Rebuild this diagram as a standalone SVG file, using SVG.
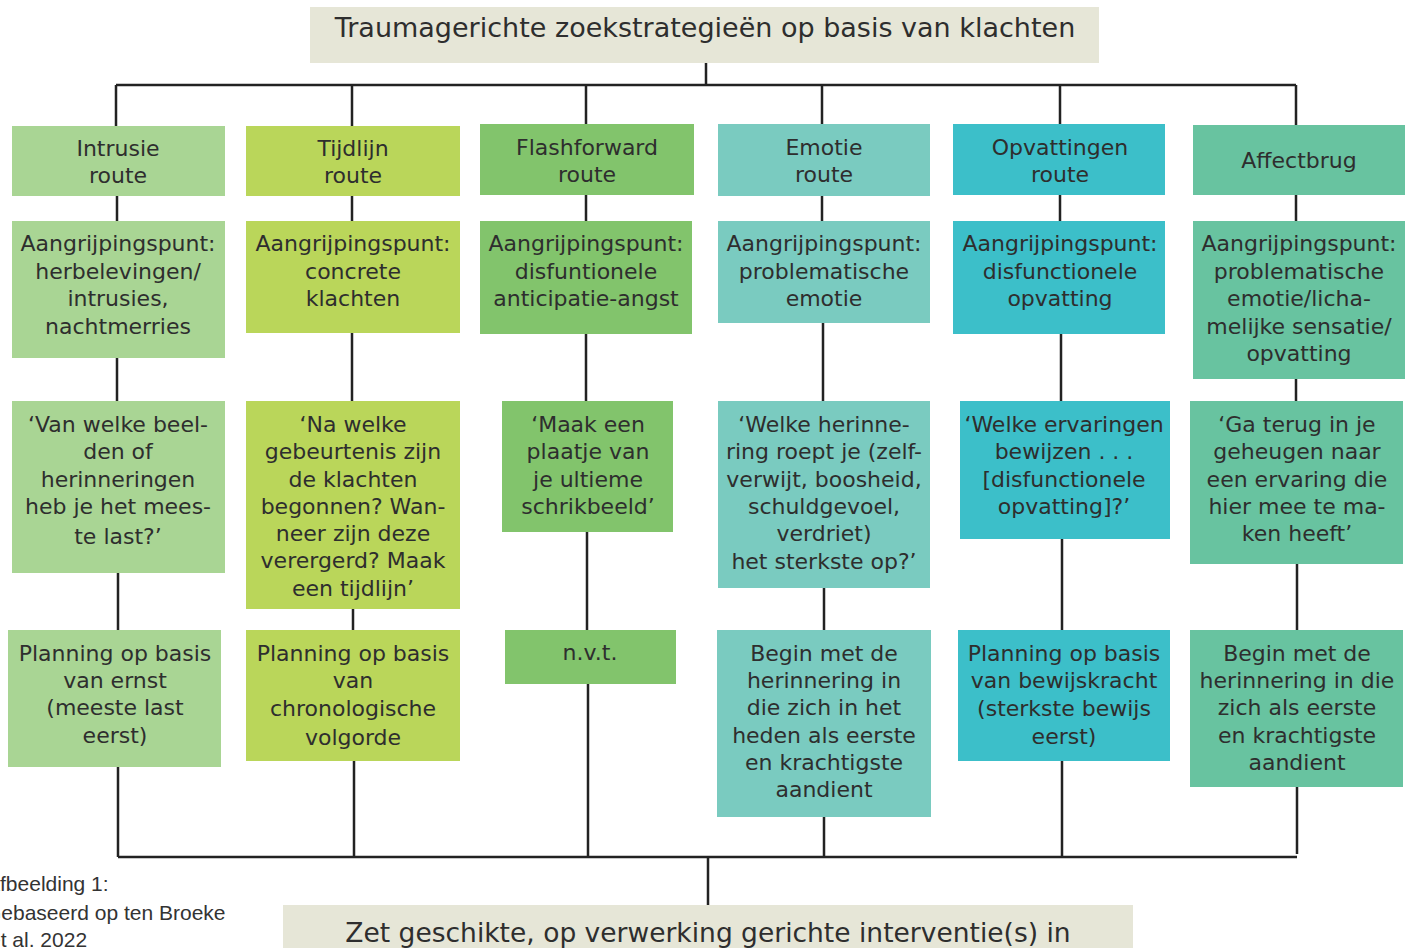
<svg xmlns="http://www.w3.org/2000/svg" width="1413" height="948" viewBox="0 0 1413 948">
<style>
.t{font-family:"DejaVu Sans","Noto Sans",sans-serif;font-size:22px;fill:#2e2e2e;text-anchor:middle}
.big{font-size:27px}
.bot{font-size:26.5px}
.cap{font-family:"Liberation Sans",sans-serif;font-size:21px;fill:#333;text-anchor:start}
.c1{fill:#a9d594}.c2{fill:#bad65a}.c3{fill:#82c46c}.c4{fill:#7acbc0}.c5{fill:#3cbfc9}.c6{fill:#68c3a0}.cb{fill:#e6e6d7}
.ln{stroke:#222;stroke-width:2.5;fill:none}
</style>
<g id="connectors" class="ln">
<path d="M706 63V85M116 85H1296M116 85V126M352 85V126M586 85V124M822 85V124M1060 85V124M1296 85V125"/>
<path d="M117 196V221M352 196V221M586 195V221M822 196V221M1060 195V221M1296 195V221"/>
<path d="M117 358V401M352 333V401M586 334V401M823 323V401M1061 334V401M1296 379V401"/>
<path d="M118 573V630M353 609V630M587 532V630M824 588V630M1062 539V630M1297 564V630"/>
<path d="M118 767V857M354 761V857M588 684V857M824 817V857M1062 761V857M1297 787V854M118 857H1297M708 857V905"/>
</g>
<g id="title"><rect class="cb" x="310" y="7" width="789" height="56"/><text class="t big" x="705" y="37">Traumagerichte zoekstrategieën op basis van klachten</text></g>
<g id="bottom"><rect class="cb" x="283" y="905" width="850" height="50"/><text class="t bot" x="708" y="942">Zet geschikte, op verwerking gerichte interventie(s) in</text></g>
<g id="caption"><text class="cap" x="-14" y="891">Afbeelding 1:</text><text class="cap" x="-15" y="920">Gebaseerd op ten Broeke</text><text class="cap" x="-11" y="947">et al. 2022</text></g>

<g id="h1"><rect class="c1" x="12" y="126" width="213" height="70"/><text class="t"><tspan x="118" y="156">Intrusie</tspan><tspan x="118" y="183">route</tspan></text></g>
<g id="h2"><rect class="c2" x="246" y="126" width="214" height="70"/><text class="t"><tspan x="353" y="156">Tijdlijn</tspan><tspan x="353" y="183">route</tspan></text></g>
<g id="h3"><rect class="c3" x="480" y="124" width="214" height="71"/><text class="t"><tspan x="587" y="155">Flashforward</tspan><tspan x="587" y="182">route</tspan></text></g>
<g id="h4"><rect class="c4" x="718" y="124" width="212" height="72"/><text class="t"><tspan x="824" y="155">Emotie</tspan><tspan x="824" y="182">route</tspan></text></g>
<g id="h5"><rect class="c5" x="953" y="124" width="212" height="71"/><text class="t"><tspan x="1060" y="155">Opvattingen</tspan><tspan x="1060" y="182">route</tspan></text></g>
<g id="h6"><rect class="c6" x="1193" y="125" width="212" height="70"/><text class="t"><tspan x="1299" y="168">Affectbrug</tspan></text></g>

<g id="a1"><rect class="c1" x="12" y="221" width="213" height="137"/><text class="t"><tspan x="118" y="251">Aangrijpingspunt:</tspan><tspan x="118" y="279">herbelevingen/</tspan><tspan x="118" y="306">intrusies,</tspan><tspan x="118" y="334">nachtmerries</tspan></text></g>
<g id="a2"><rect class="c2" x="246" y="221" width="214" height="112"/><text class="t"><tspan x="353" y="251">Aangrijpingspunt:</tspan><tspan x="353" y="279">concrete</tspan><tspan x="353" y="306">klachten</tspan></text></g>
<g id="a3"><rect class="c3" x="480" y="221" width="212" height="113"/><text class="t"><tspan x="586" y="251">Aangrijpingspunt:</tspan><tspan x="586" y="279">disfuntionele</tspan><tspan x="586" y="306">anticipatie-angst</tspan></text></g>
<g id="a4"><rect class="c4" x="718" y="221" width="212" height="102"/><text class="t"><tspan x="824" y="251">Aangrijpingspunt:</tspan><tspan x="824" y="279">problematische</tspan><tspan x="824" y="306">emotie</tspan></text></g>
<g id="a5"><rect class="c5" x="953" y="221" width="212" height="113"/><text class="t"><tspan x="1060" y="251">Aangrijpingspunt:</tspan><tspan x="1060" y="279">disfunctionele</tspan><tspan x="1060" y="306">opvatting</tspan></text></g>
<g id="a6"><rect class="c6" x="1193" y="221" width="212" height="158"/><text class="t"><tspan x="1299" y="251">Aangrijpingspunt:</tspan><tspan x="1299" y="279">problematische</tspan><tspan x="1299" y="306">emotie/licha-</tspan><tspan x="1299" y="334">melijke sensatie/</tspan><tspan x="1299" y="361">opvatting</tspan></text></g>

<g id="q1"><rect class="c1" x="12" y="401" width="213" height="172"/><text class="t"><tspan x="118" y="432">‘Van welke beel-</tspan><tspan x="118" y="459">den of</tspan><tspan x="118" y="487">herinneringen</tspan><tspan x="118" y="514">heb je het mees-</tspan><tspan x="118" y="544">te last?’</tspan></text></g>
<g id="q2"><rect class="c2" x="246" y="401" width="214" height="208"/><text class="t"><tspan x="353" y="432">‘Na welke</tspan><tspan x="353" y="459">gebeurtenis zijn</tspan><tspan x="353" y="487">de klachten</tspan><tspan x="353" y="514">begonnen? Wan-</tspan><tspan x="353" y="541">neer zijn deze</tspan><tspan x="353" y="568">verergerd? Maak</tspan><tspan x="353" y="596">een tijdlijn’</tspan></text></g>
<g id="q3"><rect class="c3" x="502" y="401" width="171" height="131"/><text class="t"><tspan x="588" y="432">‘Maak een</tspan><tspan x="588" y="459">plaatje van</tspan><tspan x="588" y="487">je ultieme</tspan><tspan x="588" y="514">schrikbeeld’</tspan></text></g>
<g id="q4"><rect class="c4" x="718" y="401" width="212" height="187"/><text class="t"><tspan x="824" y="432">‘Welke herinne-</tspan><tspan x="824" y="459">ring roept je (zelf-</tspan><tspan x="824" y="487">verwijt, boosheid,</tspan><tspan x="824" y="514">schuldgevoel,</tspan><tspan x="824" y="541">verdriet)</tspan><tspan x="824" y="569">het sterkste op?’</tspan></text></g>
<g id="q5"><rect class="c5" x="960" y="401" width="210" height="138"/><text class="t"><tspan x="1064" y="432">‘Welke ervaringen</tspan><tspan x="1064" y="459">bewijzen . . .</tspan><tspan x="1064" y="487">[disfunctionele</tspan><tspan x="1064" y="514">opvatting]?’</tspan></text></g>
<g id="q6"><rect class="c6" x="1190" y="401" width="213" height="163"/><text class="t"><tspan x="1297" y="432">‘Ga terug in je</tspan><tspan x="1297" y="459">geheugen naar</tspan><tspan x="1297" y="487">een ervaring die</tspan><tspan x="1297" y="514">hier mee te ma-</tspan><tspan x="1297" y="541">ken heeft’</tspan></text></g>

<g id="p1"><rect class="c1" x="8" y="630" width="213" height="137"/><text class="t"><tspan x="115" y="661">Planning op basis</tspan><tspan x="115" y="688">van ernst</tspan><tspan x="115" y="715">(meeste last</tspan><tspan x="115" y="743">eerst)</tspan></text></g>
<g id="p2"><rect class="c2" x="246" y="630" width="214" height="131"/><text class="t"><tspan x="353" y="661">Planning op basis</tspan><tspan x="353" y="688">van</tspan><tspan x="353" y="716">chronologische</tspan><tspan x="353" y="745">volgorde</tspan></text></g>
<g id="p3"><rect class="c3" x="505" y="630" width="171" height="54"/><text class="t"><tspan x="590" y="660">n.v.t.</tspan></text></g>
<g id="p4"><rect class="c4" x="717" y="630" width="214" height="187"/><text class="t"><tspan x="824" y="661">Begin met de</tspan><tspan x="824" y="688">herinnering in</tspan><tspan x="824" y="715">die zich in het</tspan><tspan x="824" y="743">heden als eerste</tspan><tspan x="824" y="770">en krachtigste</tspan><tspan x="824" y="797">aandient</tspan></text></g>
<g id="p5"><rect class="c5" x="958" y="630" width="212" height="131"/><text class="t"><tspan x="1064" y="661">Planning op basis</tspan><tspan x="1064" y="688">van bewijskracht</tspan><tspan x="1064" y="716">(sterkste bewijs</tspan><tspan x="1064" y="744">eerst)</tspan></text></g>
<g id="p6"><rect class="c6" x="1190" y="630" width="213" height="157"/><text class="t"><tspan x="1297" y="661">Begin met de</tspan><tspan x="1297" y="688">herinnering in die</tspan><tspan x="1297" y="715">zich als eerste</tspan><tspan x="1297" y="743">en krachtigste</tspan><tspan x="1297" y="770">aandient</tspan></text></g>
</svg>
